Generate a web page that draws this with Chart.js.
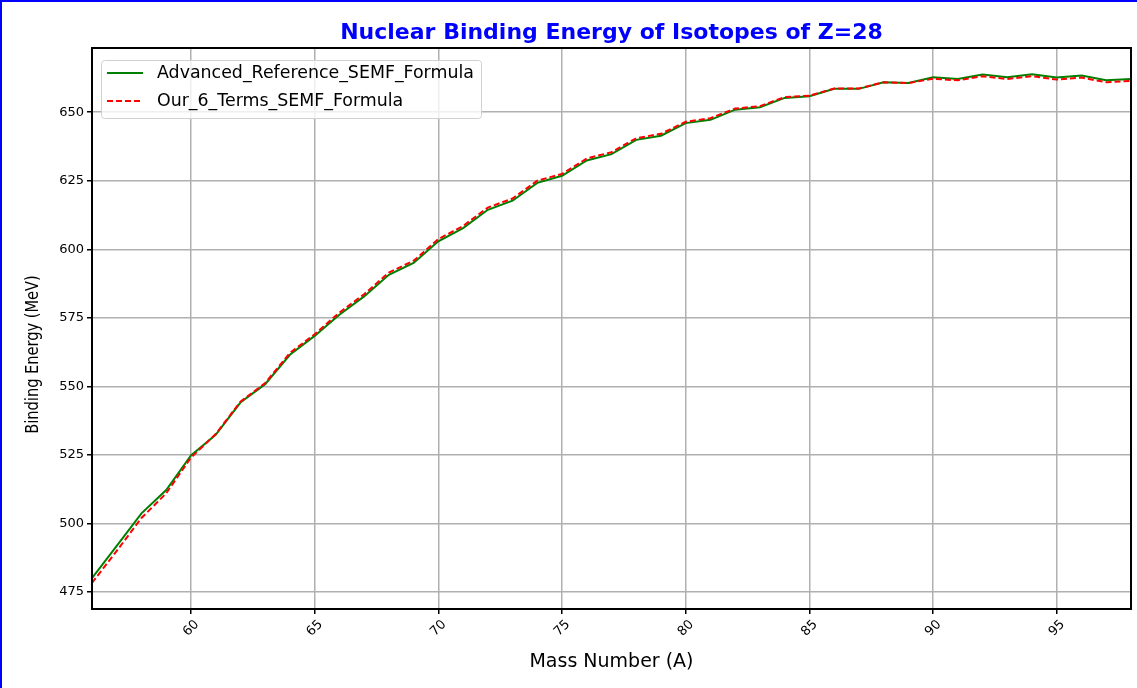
<!DOCTYPE html>
<html>
<head>
<meta charset="utf-8">
<script src="https://cdn.jsdelivr.net/npm/chart.js@4"></script>
<style>
  body { margin: 0; background: #fff; }
  #chart { position: absolute; left: 0; top: 0; }
  #frame { position: absolute; left: 0; top: 0; width: 1200px; height: 700px;
           border-left: 2px solid #0000ff; border-top: 2px solid #0000ff; pointer-events: none; }
</style>
</head>
<body>
<canvas id="chart" width="1137" height="688"></canvas>
<div id="frame"></div>
<script>
// mass numbers A for Z = 28
const massNumbers = [56, 57, 58, 59, 60, 61, 62, 63, 64, 65, 66, 67, 68, 69, 70, 71, 72, 73, 74, 75, 76,
                     77, 78, 79, 80, 81, 82, 83, 84, 85, 86, 87, 88, 89, 90, 91, 92, 93, 94, 95, 96, 97, 98];

// binding energies (MeV)
const referenceSEMF = [480.1, 491.8, 503.7, 512.2, 524.8, 532.3, 544.1, 550.8, 561.5, 568.4, 576.1,
                       582.8, 590.7, 595.0, 602.9, 607.7, 614.4, 617.7, 624.2, 626.8, 632.4,
                       634.7, 639.9, 641.4, 646.0, 647.2, 650.9, 651.8, 655.2, 655.8, 658.5,
                       658.5, 660.9, 660.6, 662.7, 662.1, 663.7, 662.7, 663.8, 662.6, 663.4, 661.6, 662.1];
const ourSixTerms = [478.3, 490.0, 502.0, 511.0, 524.0, 532.6, 544.4, 551.2, 562.2, 569.0, 576.9,
                     583.6, 591.5, 595.8, 603.7, 608.5, 615.2, 618.5, 625.0, 627.5, 633.1,
                     635.4, 640.5, 642.1, 646.5, 647.8, 651.3, 652.2, 655.5, 656.0, 658.6,
                     658.6, 660.9, 660.6, 662.2, 661.6, 663.1, 662.1, 663.1, 661.9, 662.6, 660.9, 661.4];

const xTicks = [60, 65, 70, 75, 80, 85, 90, 95];
const yTicks = [475, 500, 525, 550, 575, 600, 625, 650];

const chartTitle = 'Nuclear Binding Energy of Isotopes of Z=28';
const yTitle = 'Binding Energy (MeV)';

const FONT = 'DejaVu Sans';

function points(values) {
    return massNumbers.map((a, i) => ({x: a, y: values[i]}));
}

// black box around the plot area, like matplotlib spines
const frameBox = {
    id: 'frameBox',
    afterDatasetsDraw(chart) {
        const {ctx, chartArea: a} = chart;
        ctx.save();
        ctx.strokeStyle = '#000';
        ctx.lineWidth = 2;
        ctx.strokeRect(a.left, a.top, a.right - a.left, a.bottom - a.top);
        ctx.restore();
    }
};

// title centred over the axes and the y label, as matplotlib places them
const axesTexts = {
    id: 'axesTexts',
    afterDraw(chart) {
        const {ctx, chartArea: a} = chart;
        ctx.save();
        ctx.textAlign = 'center';
        ctx.textBaseline = 'middle';
        ctx.fillStyle = '#0000ff';
        ctx.font = 'bold 22px "' + FONT + '"';
        ctx.fillText(chartTitle, (a.left + a.right) / 2, a.top - 15);

        ctx.fillStyle = '#000';
        ctx.font = '14.6px "' + FONT + '"';
        ctx.translate(a.left - 59, (a.top + a.bottom) / 2 + 26);
        ctx.rotate(-Math.PI / 2);
        ctx.scale(1, 1.2);
        ctx.fillText(yTitle, 0, 0);
        ctx.restore();
    }
};

// legend drawn inside the upper-left corner
const insideLegend = {
    id: 'insideLegend',
    afterDraw(chart) {
        const {ctx, chartArea: a} = chart;
        const x = a.left + 9, y = a.top + 12, w = 380, h = 58;
        ctx.save();
        ctx.beginPath();
        ctx.roundRect(x + 0.5, y + 0.5, w, h, 3);
        ctx.fillStyle = 'rgba(255,255,255,0.8)';
        ctx.fill();
        ctx.strokeStyle = '#d0d0d0';
        ctx.lineWidth = 1;
        ctx.stroke();
        ctx.font = '17.4px "' + FONT + '"';
        ctx.textBaseline = 'middle';
        chart.data.datasets.forEach((ds, i) => {
            const ly = y + 13 + i * 28;
            ctx.beginPath();
            ctx.strokeStyle = ds.borderColor;
            ctx.lineWidth = ds.borderWidth;
            ctx.setLineDash(ds.borderDash || []);
            ctx.moveTo(x + 6, ly);
            ctx.lineTo(x + 42, ly);
            ctx.stroke();
            ctx.setLineDash([]);
            ctx.fillStyle = '#000';
            ctx.fillText(ds.label, x + 56, ly);
        });
        ctx.restore();
    }
};

const ctx = document.getElementById('chart').getContext('2d');
const bindingChart = new Chart(ctx, {
    type: 'line',
    data: {
        datasets: [
            {
                label: 'Advanced_Reference_SEMF_Formula',
                data: points(referenceSEMF),
                borderColor: '#008000',
                borderWidth: 2,
                pointRadius: 0,
                tension: 0,
                order: 1
            },
            {
                label: 'Our_6_Terms_SEMF_Formula',
                data: points(ourSixTerms),
                borderColor: '#ff0000',
                borderWidth: 2,
                borderDash: [6, 3],
                pointRadius: 0,
                tension: 0,
                order: 0
            }
        ]
    },
    options: {
        responsive: false,
        animation: false,
        layout: { padding: { left: 0, right: 6, top: 48, bottom: 0 } },
        plugins: {
            legend: { display: false },
            tooltip: { enabled: false },
            title: { display: false }
        },
        scales: {
            x: {
                type: 'linear',
                min: 56,
                max: 98,
                afterBuildTicks: (scale) => { scale.ticks = xTicks.map(v => ({value: v})); },
                afterFit: (scale) => { scale.height = 79; },
                grid: { color: '#b0b0b0', lineWidth: 1.5, tickColor: '#000', tickLength: 5 },
                border: { display: false },
                ticks: {
                    color: '#000',
                    font: { family: FONT, size: 13 },
                    minRotation: 45,
                    maxRotation: 45,
                    labelOffset: 6,
                    padding: 3
                },
                title: {
                    display: true,
                    text: 'Mass Number (A)',
                    color: '#000',
                    font: { family: FONT, size: 19 },
                    padding: { top: 0, bottom: 15 }
                }
            },
            y: {
                min: 468.8,
                max: 673.4,
                afterBuildTicks: (scale) => { scale.ticks = yTicks.map(v => ({value: v})); },
                afterFit: (scale) => { scale.width = 92; },
                grid: { color: '#b0b0b0', lineWidth: 1.5, tickColor: '#000', tickLength: 5 },
                border: { display: false },
                ticks: {
                    color: '#000',
                    font: { family: FONT, size: 13 },
                    padding: 3
                },
                title: { display: false }
            }
        }
    },
    plugins: [frameBox, axesTexts, insideLegend]
});
</script>
</body>
</html>
